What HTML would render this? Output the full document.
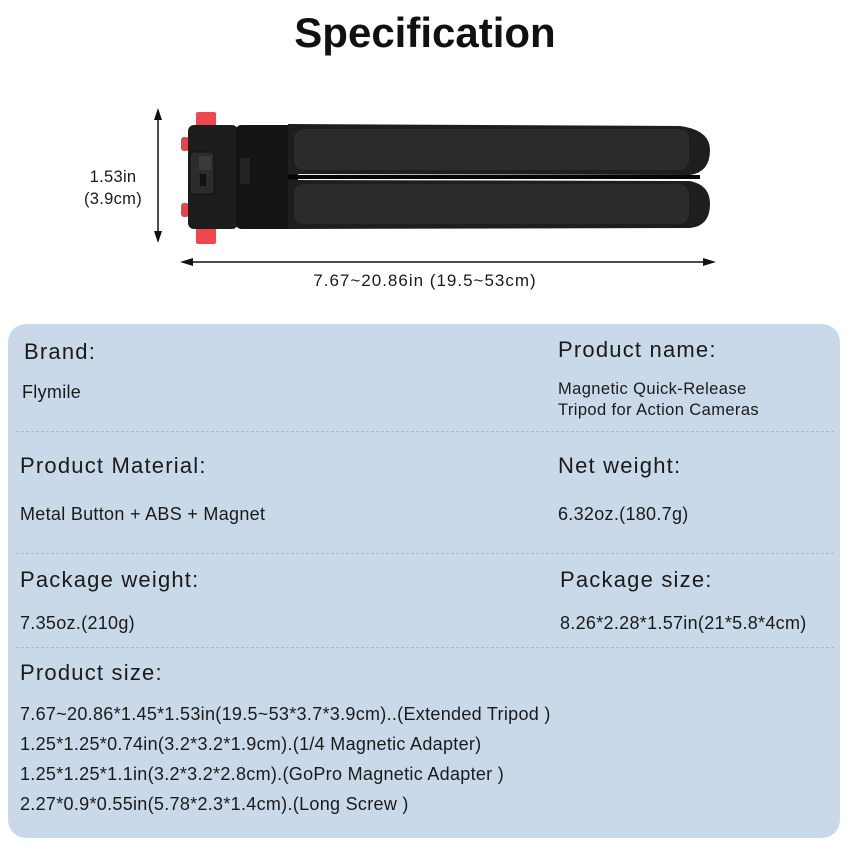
<!DOCTYPE html>
<html><head><meta charset="utf-8"><style>
body{margin:0;width:850px;height:850px;background:#fff;position:relative;overflow:hidden;font-family:"Liberation Sans",sans-serif;color:#1a1a1a}
.a{position:absolute;white-space:nowrap}
.h{font-size:22px;letter-spacing:1.2px}
.v{font-size:18px;letter-spacing:0.3px}
.dash{position:absolute;left:16px;width:818px;border-top:1.5px dashed #aebccb}
</style></head><body>
<div class="a" style="left:0;width:850px;text-align:center;top:9px;font-size:42px;font-weight:bold;color:#111">Specification</div>

<svg class="a" style="left:0;top:0" width="850" height="300">
<line x1="158" y1="114" x2="158" y2="238" stroke="#111" stroke-width="1.5"/>
<polygon points="158,108 154,120 162,120" fill="#111"/>
<polygon points="158,243 154,231 162,231" fill="#111"/>
<line x1="186" y1="262" x2="710" y2="262" stroke="#111" stroke-width="1.5"/>
<polygon points="180,262 193,258 193,266" fill="#111"/>
<polygon points="716,262 703,258 703,266" fill="#111"/>
<rect x="196" y="112" width="20" height="16" rx="2" fill="#f0474c"/>
<rect x="196" y="228" width="20" height="16" rx="2" fill="#f0474c"/>
<rect x="181" y="137" width="8" height="14" rx="3" fill="#e8454a"/>
<rect x="181" y="203" width="8" height="14" rx="3" fill="#e8454a"/>
<rect x="188" y="125" width="50" height="104" rx="6" fill="#1c1c1c"/>
<rect x="190" y="152" width="24" height="42" rx="3" fill="#2c2c2c" stroke="#111"/>
<rect x="199" y="156" width="12" height="14" fill="#3a3a3a"/>
<rect x="200" y="174" width="6" height="12" fill="#111"/>
<rect x="236" y="125" width="62" height="104" rx="5" fill="#141414"/>
<rect x="240" y="158" width="10" height="26" fill="#222"/>
<path d="M288 124 L680 126 Q710 130 710 150 Q710 172 690 175 L288 174 Z" fill="#1e1e1e"/>
<path d="M288 180 L690 181 Q710 185 710 204 Q710 226 690 228 L288 229 Z" fill="#1e1e1e"/>
<rect x="294" y="129" width="395" height="41" rx="10" fill="#2b2b2b"/>
<rect x="294" y="184" width="395" height="40" rx="10" fill="#2b2b2b"/>
<line x1="288" y1="177" x2="700" y2="177" stroke="#050505" stroke-width="4"/>
</svg>
<div class="a" style="left:84px;top:166px;font-size:16.5px;line-height:22px;text-align:center;letter-spacing:0.3px">1.53in<br>(3.9cm)</div>
<div class="a" style="left:0;width:850px;text-align:center;top:271px;font-size:17px;letter-spacing:1px">7.67~20.86in (19.5~53cm)</div>

<div class="a" style="left:8px;top:324px;width:832px;height:514px;background:#c9d9e9;border-radius:18px"></div>
<div class="dash" style="top:431px"></div>
<div class="dash" style="top:553px"></div>
<div class="dash" style="top:647px"></div>

<div class="a h" style="left:24px;top:339px">Brand:</div>
<div class="a v" style="left:22px;top:382px">Flymile</div>
<div class="a h" style="left:558px;top:337px">Product name:</div>
<div class="a" style="left:558px;top:379px;font-size:16.5px;line-height:21px;letter-spacing:0.4px">Magnetic Quick-Release<br>Tripod for Action Cameras</div>

<div class="a h" style="left:20px;top:453px">Product Material:</div>
<div class="a v" style="left:20px;top:504px">Metal Button + ABS + Magnet</div>
<div class="a h" style="left:558px;top:453px">Net weight:</div>
<div class="a v" style="left:558px;top:504px">6.32oz.(180.7g)</div>

<div class="a h" style="left:20px;top:567px">Package weight:</div>
<div class="a v" style="left:20px;top:613px">7.35oz.(210g)</div>
<div class="a h" style="left:560px;top:567px">Package size:</div>
<div class="a v" style="left:560px;top:613px">8.26*2.28*1.57in(21*5.8*4cm)</div>

<div class="a h" style="left:20px;top:660px">Product size:</div>
<div class="a v" style="left:20px;top:699px;line-height:30px">7.67~20.86*1.45*1.53in(19.5~53*3.7*3.9cm)..(Extended Tripod )<br>1.25*1.25*0.74in(3.2*3.2*1.9cm).(1/4 Magnetic Adapter)<br>1.25*1.25*1.1in(3.2*3.2*2.8cm).(GoPro Magnetic Adapter )<br>2.27*0.9*0.55in(5.78*2.3*1.4cm).(Long Screw )</div>
</body></html>
